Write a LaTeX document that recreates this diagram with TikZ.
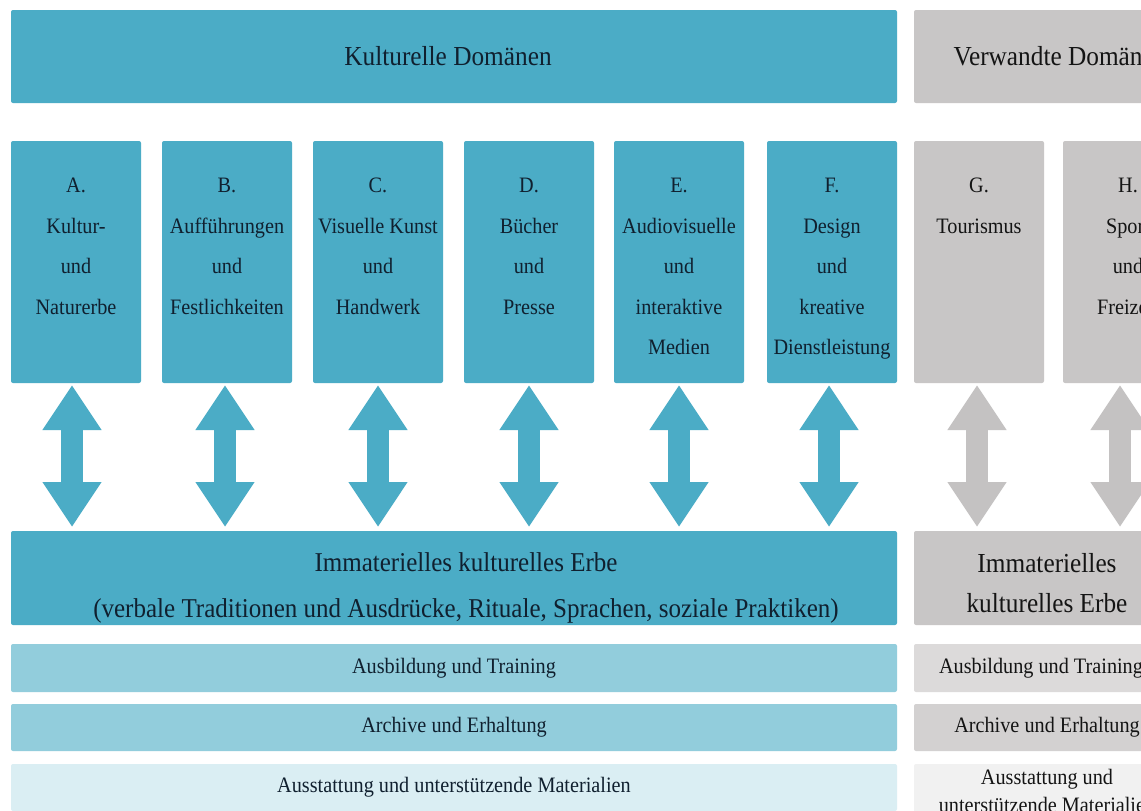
\documentclass[tikz,border=0pt]{standalone}
\usepackage{fontspec}
\setmainfont{Liberation Serif}[FakeStretch=0.92]
\usetikzlibrary{arrows.meta,calc}
\definecolor{tealA}{HTML}{4BACC6}
\definecolor{tealB}{HTML}{92CDDC}
\definecolor{tealC}{HTML}{DAEEF3}
\definecolor{grayA}{HTML}{C8C6C6}
\definecolor{grayB}{HTML}{DCDADA}
\definecolor{grayC}{HTML}{D3D1D1}
\definecolor{grayD}{HTML}{F1F1F1}
\definecolor{grayArr}{HTML}{C4C2C2}
\definecolor{txtTeal}{HTML}{10202F}
\definecolor{txtGray}{HTML}{141414}
\begin{document}
\begin{tikzpicture}[x=1pt,y=-1pt,
  panel/.style={draw=none, rounded corners=2pt, inner sep=0pt, outer sep=0pt, anchor=north west},
  colbox/.style={panel, minimum width=130pt, minimum height=242pt},
  lbl/.style={anchor=north, align=center, inner sep=0pt, font=\fontsize{22}{40.5}\selectfont},
  bandtxt/.style={inner sep=0pt, font=\fontsize{22}{28}\selectfont},
  bigtxt/.style={inner sep=0pt, font=\fontsize{27.5}{33}\selectfont},
  dblarrow/.style={line width=22pt, {Triangle[length=45pt,width=56pt]}-{Triangle[length=45pt,width=56pt]}}
]
\useasboundingbox (0,0) rectangle (1141,811);
\clip (0,0) rectangle (1141,811);
\fill[white] (0,0) rectangle (1141,811);

% top banners
\node[panel, fill=tealA, minimum width=886pt, minimum height=93pt] (top) at (11,10) {};
\node[bigtxt, text=txtTeal] (toptxt) at ($(top.center)+(-6,0)$) {Kulturelle Domänen};
\node[panel, fill=grayA, minimum width=292pt, minimum height=93pt] (topg) at (914,10) {};
\node[bigtxt, text=txtGray] (topgtxt) at (topg.center) {Verwandte Domänen};

% column boxes
\node[colbox, fill=tealA] (A) at (11,141) {};
\node[colbox, fill=tealA] (B) at (162,141) {};
\node[colbox, fill=tealA] (C) at (313,141) {};
\node[colbox, fill=tealA] (D) at (464,141) {};
\node[colbox, fill=tealA] (E) at (614,141) {};
\node[colbox, fill=tealA] (F) at (767,141) {};
\node[colbox, fill=grayA] (G) at (914,141) {};
\node[colbox, fill=grayA] (H) at (1063,141) {};

\node[lbl, text=txtTeal] (At) at ($(A.north)+(0,37)$) {A.\\Kultur-\\und\\Naturerbe};
\node[lbl, text=txtTeal] (Bt) at ($(B.north)+(0,37)$) {B.\\Aufführungen\\und\\Festlichkeiten};
\node[lbl, text=txtTeal] (Ct) at ($(C.north)+(0,37)$) {C.\\Visuelle Kunst\\und\\Handwerk};
\node[lbl, text=txtTeal] (Dt) at ($(D.north)+(0,37)$) {D.\\Bücher\\und\\Presse};
\node[lbl, text=txtTeal] (Et) at ($(E.north)+(0,37)$) {E.\\Audiovisuelle\\und\\interaktive\\Medien};
\node[lbl, text=txtTeal] (Ft) at ($(F.north)+(0,37)$) {F.\\Design\\und\\kreative\\Dienstleistung};
\node[lbl, text=txtGray] (Gt) at ($(G.north)+(0,37)$) {G.\\Tourismus};
\node[lbl, text=txtGray] (Ht) at ($(H.north)+(0,37)$) {H.\\Sport\\und\\Freizeit};

% intangible heritage boxes
\node[panel, fill=tealA, minimum width=886pt, minimum height=94pt] (imm) at (11,531) {};
\node[anchor=north, align=center, inner sep=0pt, font=\fontsize{27.2}{46}\selectfont, text=txtTeal] (immt) at ($(imm.north)+(12,21)$)
  {Immaterielles kulturelles Erbe\\(verbale Traditionen und Ausdrücke, Rituale, Sprachen, soziale Praktiken)};
\node[panel, fill=grayA, minimum width=266pt, minimum height=94pt] (immg) at (914,531) {};
\node[anchor=north, align=center, inner sep=0pt, font=\fontsize{27.5}{40}\selectfont, text=txtGray] (immgt) at ($(immg.north)+(0,22)$)
  {Immaterielles\\kulturelles Erbe};

% double arrows
\draw[dblarrow, tealA] ($(A.south)+(-4,2)$) -- ($(A.south |- imm.north)+(-4,-4)$);
\draw[dblarrow, tealA] ($(B.south)+(-2,2)$) -- ($(B.south |- imm.north)+(-2,-4)$);
\draw[dblarrow, tealA] ($(C.south)+(0,2)$) -- ($(C.south |- imm.north)+(0,-4)$);
\draw[dblarrow, tealA] ($(D.south)+(0,2)$) -- ($(D.south |- imm.north)+(0,-4)$);
\draw[dblarrow, tealA] ($(E.south)+(0,2)$) -- ($(E.south |- imm.north)+(0,-4)$);
\draw[dblarrow, tealA] ($(F.south)+(-3,2)$) -- ($(F.south |- imm.north)+(-3,-4)$);
\draw[dblarrow, grayArr] ($(G.south)+(-2,2)$) -- ($(G.south |- immg.north)+(-2,-4)$);
\draw[dblarrow, grayArr] ($(H.south)+(-8,2)$) -- ($(H.south |- immg.north)+(-8,-4)$);

% bands
\node[panel, fill=tealB, minimum width=886pt, minimum height=48pt] (b1) at (11,644) {};
\node[bandtxt, text=txtTeal] (b1t) at (b1.center) {Ausbildung und Training};
\node[panel, fill=tealB, minimum width=886pt, minimum height=47pt] (b2) at (11,704) {};
\node[bandtxt, text=txtTeal] (b2t) at (b2.center) {Archive und Erhaltung};
\node[panel, fill=tealC, minimum width=886pt, minimum height=47pt] (b3) at (11,764) {};
\node[bandtxt, text=txtTeal] (b3t) at (b3.center) {Ausstattung und unterstützende Materialien};

\node[panel, fill=grayB, minimum width=266pt, minimum height=48pt] (g1) at (914,644) {};
\node[bandtxt, text=txtGray] (g1t) at ($(g1.center)+(-6,0)$) {Ausbildung und Training};
\node[panel, fill=grayC, minimum width=266pt, minimum height=47pt] (g2) at (914,704) {};
\node[bandtxt, text=txtGray] (g2t) at (g2.center) {Archive und Erhaltung};
\node[panel, fill=grayD, minimum width=266pt, minimum height=60pt] (g3) at (914,764) {};
\node[anchor=north, align=center, inner sep=0pt, font=\fontsize{22}{28}\selectfont, text=txtGray] (g3t) at ($(g3.north)+(0,5)$)
  {Ausstattung und\\unterstützende Materialien};
\end{tikzpicture}
\end{document}
